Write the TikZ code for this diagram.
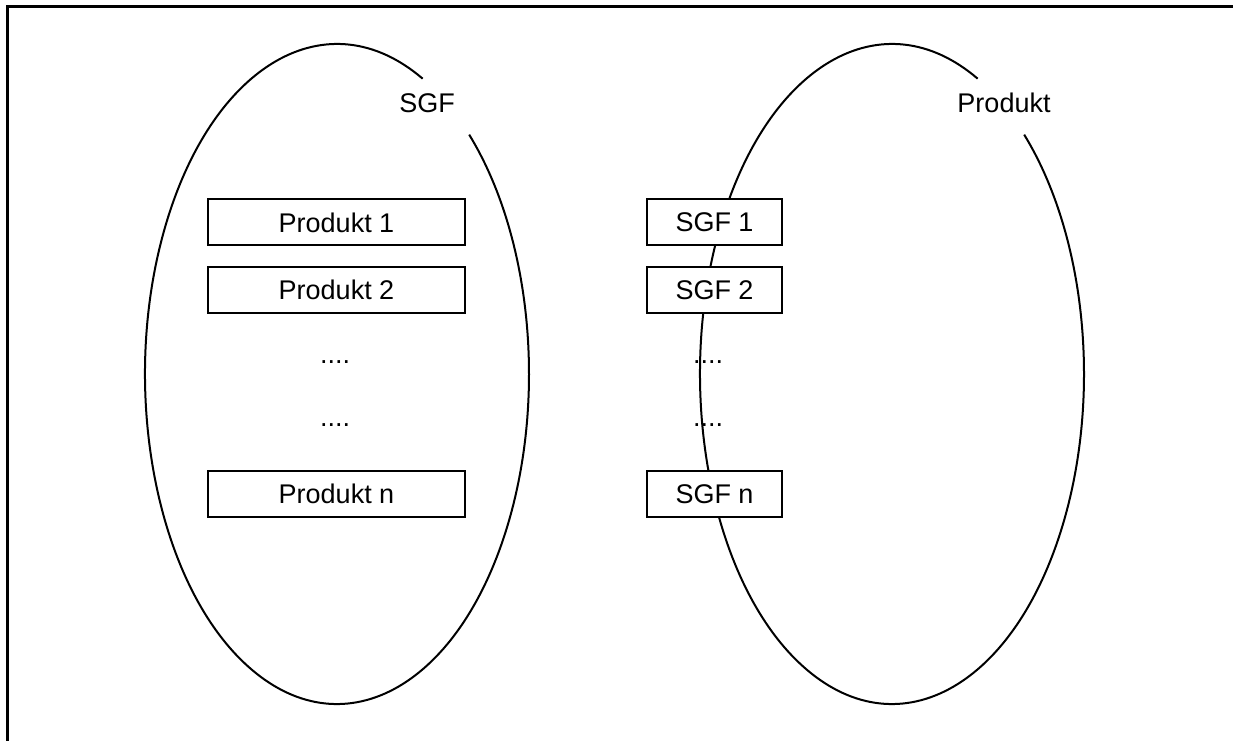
\documentclass[tikz,border=0pt]{standalone}
\usepackage{fontspec}
\setmainfont{Liberation Sans}
\begin{document}
\begin{tikzpicture}[x=1pt,y=1pt,
  lbl/.style={font=\fontsize{27}{32}\selectfont, inner sep=0pt},
  bigbox/.style={draw, line width=2pt, minimum width=257pt, minimum height=46pt, inner sep=0pt, font=\fontsize{27}{32}\selectfont},
  smallbox/.style={draw, line width=2pt, minimum width=135pt, minimum height=46pt, inner sep=0pt, font=\fontsize{27}{32}\selectfont},
  dotrow/.style={anchor=base, inner sep=0pt, font=\fontsize{27}{32}\selectfont},
  oval/.style={line width=2pt}]
\useasboundingbox (0,0) rectangle (1233,740);

% outer frame (top and left edges)
\begin{scope}
\clip (0,0) rectangle (1233,740);
\draw[line width=2.6pt] (7.5,-10) -- (7.5,733.5) -- (1250,733.5);
\end{scope}

% left oval with opening for its label
\draw[oval] (337,366) ++(63.5:192 and 330)
  arc[start angle=63.5, end angle=406.5, x radius=192, y radius=330];
\node[lbl] (sgf) at (427,637) {SGF};

% right oval with opening for its label
\draw[oval] (892,366) ++(63.5:192 and 330)
  arc[start angle=63.5, end angle=406.5, x radius=192, y radius=330];
\node[lbl] (produkt) at (1004,637) {Produkt};

% products inside the left oval
\node[bigbox, fill=white] (p1) at (336.5,517.5) {Produkt 1};
\node[bigbox, fill=white] (p2) at (336.5,450) {Produkt 2};
\node[dotrow] (pd1) at (335,377) {....};
\node[dotrow] (pd2) at (335,314) {....};
\node[bigbox, fill=white] (pn) at (336.5,246) {Produkt n};

% business units on the rim of the right oval
\node[smallbox, fill=white] (s1) at (714.5,517.5) {SGF 1};
\node[smallbox, fill=white] (s2) at (714.5,450) {SGF 2};
\node[dotrow] (sd1) at (708,377) {....};
\node[dotrow] (sd2) at (708,314) {....};
\node[smallbox, fill=white] (sn) at (714.5,246) {SGF n};
\end{tikzpicture}
\end{document}
